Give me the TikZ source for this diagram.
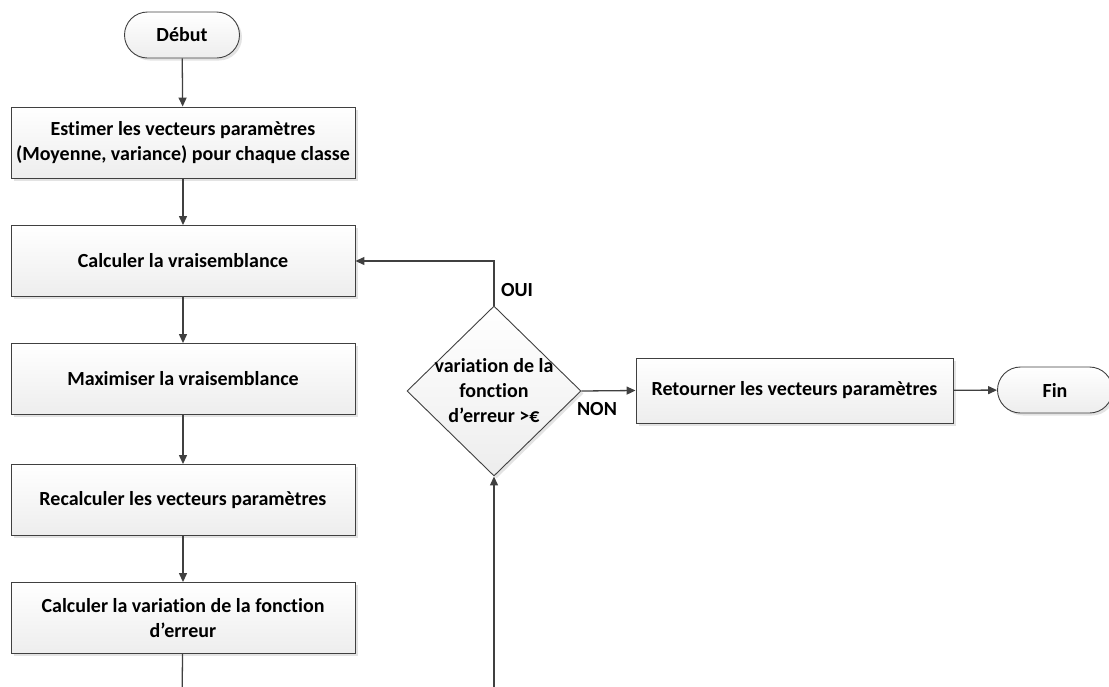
\documentclass[tikz,border=0pt]{standalone}
\usepackage{fontspec}
\setmainfont{Carlito}[Ligatures=CommonOff]
\usetikzlibrary{shapes.geometric,shapes.misc,arrows.meta,shadows}

\definecolor{linegray}{HTML}{404040}

\begin{document}
\begin{tikzpicture}[x=1pt,y=-1pt,
  font=\fontsize{20}{25}\selectfont\bfseries,
  line/.style={draw=linegray,line width=1.3pt},
  arr/.style={line,-{Triangle[length=9pt,width=8pt]}},
  fillshade/.style={top color=white,bottom color=gray!14,
    drop shadow={opacity=.22,shadow xshift=2.5pt,shadow yshift=-2.5pt}},
  procbox/.style={draw=linegray,line width=.9pt,fillshade,
    minimum width=344pt,minimum height=71pt,align=center,inner sep=2pt},
  term/.style={draw=linegray,line width=.9pt,fillshade,rounded rectangle,
    minimum width=119pt,minimum height=46pt,inner sep=2pt},
  decision/.style={draw=linegray,line width=.9pt,fillshade,diamond,
    minimum width=174pt,minimum height=170pt,inner sep=-9pt,align=center},
  lbl/.style={inner sep=1pt}]
\useasboundingbox (0,0) rectangle (1109,686);
\clip (0,0) rectangle (1109,686);

% left column
\node [term] (debut) at (182,35) {Début};
\node [procbox] (est) at (183,142.5) {Estimer les vecteurs paramètres\\(Moyenne, variance) pour chaque classe};
\node [procbox] (vrai) at (183,261) {Calculer la vraisemblance};
\node [procbox] (maxi) at (183,379) {Maximiser la vraisemblance};
\node [procbox] (recalc) at (183,500) {Recalculer les vecteurs paramètres};
\node [procbox] (varerr) at (183,618) {Calculer la variation de la fonction\\d’erreur};

% test and exit
\node [decision] (test) at (494,391) {variation de la\\fonction\\d’erreur >€};
\node [procbox,minimum width=317pt,minimum height=65pt] (ret) at (794.5,390.5) {Retourner les vecteurs paramètres};
\node [term] (fin) at (1055,390) {Fin};

\coordinate (outbot) at (182,700);
\coordinate (inbot) at (494,700);

\draw [arr] (debut) -- (est);
\draw [arr] (est) -- (vrai);
\draw [arr] (vrai) -- (maxi);
\draw [arr] (maxi) -- (recalc);
\draw [arr] (recalc) -- (varerr);
\draw [line] (varerr) -- (outbot);
\draw [arr] (inbot) -- (test.south);
\draw [arr] (test.north) |- (vrai.east);
\draw [arr] (test.east) -- (ret.west);
\draw [arr] (ret) -- (fin);

\node [lbl] (oui) at (517,290) {OUI};
\node [lbl] (non) at (597,409) {NON};
\end{tikzpicture}
\end{document}
